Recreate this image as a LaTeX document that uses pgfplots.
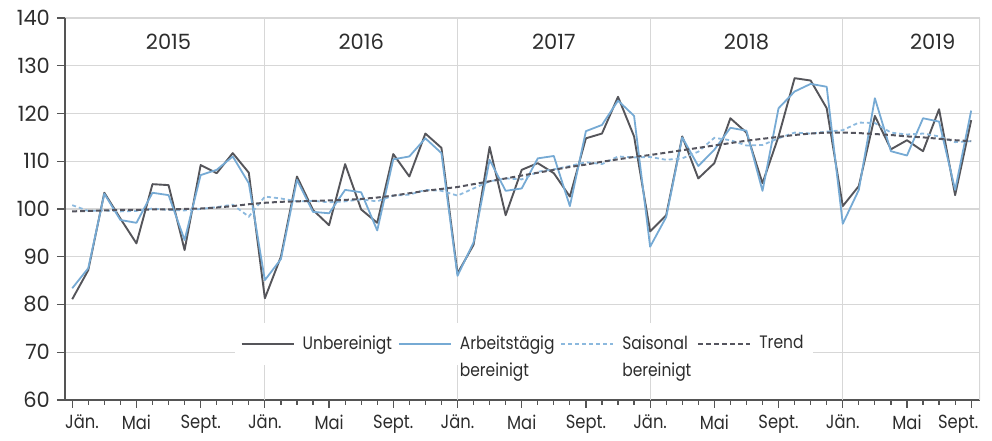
\documentclass[border=0pt]{standalone}
\usepackage{pgfplots}
\pgfplotsset{compat=1.18}
\usepackage{fontspec}
\setmainfont{Poppins}[FakeStretch=0.86]
\newfontfamily\numfont{Poppins}
\definecolor{darkline}{RGB}{85,85,90}
\definecolor{blueline}{RGB}{118,170,212}
\definecolor{saisonline}{RGB}{140,185,222}
\definecolor{trendline}{RGB}{85,85,95}
\definecolor{gridcol}{RGB}{215,215,215}
\definecolor{axiscol}{RGB}{85,85,85}
\definecolor{labelcol}{RGB}{45,45,45}
\newcommand{\lblfont}{\fontsize{9.5}{11}\selectfont}
\newcommand{\legfont}{\fontsize{9}{11}\selectfont}
\newcommand{\nfont}{\numfont\fontsize{10.5}{12}\selectfont}
\begin{document}
\begin{tikzpicture}
\begin{axis}[
  scale only axis, width=457.5pt, height=191pt,
  xmin=-0.45, xmax=56.55, ymin=60, ymax=140,
  axis x line*=bottom, axis y line*=left,
  axis line style={draw=axiscol, line width=0.8pt, -},
  ytick={60,70,...,140},
  ymajorgrids, grid style={draw=gridcol, line width=0.6pt},
  xtick={0,4,...,56},
  xticklabels={{\makebox[0pt][l]{\hspace{-3.5pt}Jän.}},Mai,Sept.,Jän.,Mai,Sept.,Jän.,Mai,Sept.,Jän.,Mai,Sept.,Jän.,Mai,{\makebox[0pt][r]{Sept.\hspace{-3.5pt}}}},
  minor xtick={0,...,56},
  tick align=outside,
  major tick length=4pt, minor tick length=2.5pt,
  tick style={draw=axiscol, line width=0.6pt},
  xticklabel style={font=\lblfont, text=labelcol},
  yticklabel style={font=\nfont, text=labelcol},
  /pgf/number format/assume math mode=true,
  legend columns=4,
  legend cell align=left,
  legend style={at={(axis cs:10.1,76.3)}, anchor=north west, draw=none, fill=white,
    font=\legfont, text=labelcol, inner xsep=3pt, inner ysep=4pt,
    /tikz/every even column/.append style={column sep=1pt},
    /tikz/every odd column/.append style={column sep=2pt}},
  legend image code/.code={\draw[#1] (0pt,0pt) -- (26pt,0pt);},
]
\draw[gridcol, line width=0.6pt] (axis cs:12,60) -- (axis cs:12,140);
\draw[gridcol, line width=0.6pt] (axis cs:24,60) -- (axis cs:24,140);
\draw[gridcol, line width=0.6pt] (axis cs:36,60) -- (axis cs:36,140);
\draw[gridcol, line width=0.6pt] (axis cs:48,60) -- (axis cs:48,140);
\draw[gridcol, line width=0.6pt] (axis cs:56.55,60) -- (axis cs:56.55,140);
\node[font=\nfont, text=labelcol] at (axis cs:6,135) {2015};
\node[font=\nfont, text=labelcol] at (axis cs:18,135) {2016};
\node[font=\nfont, text=labelcol] at (axis cs:30,135) {2017};
\node[font=\nfont, text=labelcol] at (axis cs:42,135) {2018};
\node[font=\nfont, text=labelcol] at (axis cs:53.6,135) {2019};

\addplot[darkline, line width=0.95pt, line join=round] coordinates {
(0,81.1)(1,87.2)(2,103.4)(3,98.0)(4,92.8)(5,105.2)(6,105.0)(7,91.4)(8,109.2)(9,107.5)(10,111.7)(11,107.6)
(12,81.3)(13,90.0)(14,106.8)(15,99.8)(16,96.6)(17,109.4)(18,99.9)(19,97.1)(20,111.5)(21,106.8)(22,115.8)(23,112.8)
(24,86.5)(25,92.5)(26,113.0)(27,98.7)(28,108.2)(29,109.6)(30,107.5)(31,102.6)(32,114.8)(33,115.8)(34,123.5)(35,115.2)
(36,95.3)(37,98.7)(38,115.2)(39,106.4)(40,109.6)(41,119.0)(42,116.0)(43,105.4)(44,115.2)(45,127.4)(46,126.9)(47,121.1)
(48,100.6)(49,104.8)(50,119.5)(51,112.5)(52,114.4)(53,112.1)(54,120.9)(55,102.9)(56,118.6)};
\addlegendentry{Unbereinigt}

\addplot[blueline, line width=0.9pt, line join=round] coordinates {
(0,83.4)(1,87.6)(2,103.2)(3,97.7)(4,97.1)(5,103.4)(6,102.9)(7,93.5)(8,107.1)(9,108.2)(10,111.0)(11,105.4)
(12,85.1)(13,89.5)(14,106.1)(15,99.4)(16,99.1)(17,104.0)(18,103.5)(19,95.5)(20,110.4)(21,111.0)(22,114.8)(23,111.7)
(24,86.0)(25,93.0)(26,110.3)(27,103.8)(28,104.3)(29,110.6)(30,111.1)(31,100.6)(32,116.3)(33,117.6)(34,122.7)(35,119.5)
(36,92.1)(37,98.3)(38,115.0)(39,109.0)(40,112.4)(41,117.0)(42,116.4)(43,103.8)(44,121.1)(45,124.6)(46,126.2)(47,125.6)
(48,96.9)(49,104.0)(50,123.2)(51,112.1)(52,111.2)(53,119.0)(54,118.3)(55,104.0)(56,120.6)};
\addlegendentry{\begin{tabular}[t]{@{}l@{}}Arbeitstägig\\[2.5pt]bereinigt\end{tabular}}

\addplot[saisonline, line width=0.9pt, dash pattern=on 2pt off 1.5pt] coordinates {
(0,100.8)(1,99.6)(2,99.7)(3,99.5)(4,99.6)(5,100.1)(6,99.8)(7,99.7)(8,100.0)(9,100.4)(10,100.9)(11,98.4)
(12,102.6)(13,102.2)(14,101.6)(15,101.7)(16,101.4)(17,101.6)(18,102.0)(19,101.6)(20,102.8)(21,103.0)(22,104.0)(23,103.8)
(24,102.8)(25,104.3)(26,105.8)(27,106.4)(28,106.2)(29,107.8)(30,108.3)(31,109.0)(32,109.8)(33,109.4)(34,111.0)(35,110.8)
(36,110.9)(37,110.3)(38,110.6)(39,112.0)(40,114.9)(41,114.4)(42,113.3)(43,113.4)(44,114.8)(45,116.0)(46,115.8)(47,116.2)
(48,116.5)(49,118.1)(50,118.0)(51,116.0)(52,115.6)(53,115.8)(54,115.2)(55,114.0)(56,114.2)};
\addlegendentry{\begin{tabular}[t]{@{}l@{}}Saisonal\\[2.5pt]bereinigt\end{tabular}}

\addplot[trendline, line width=1pt, dash pattern=on 2.5pt off 1.5pt] coordinates {
(0,99.5)(1,99.6)(2,99.7)(3,99.8)(4,99.8)(5,99.9)(6,99.9)(7,100.0)(8,100.1)(9,100.3)(10,100.6)(11,101.0)
(12,101.3)(13,101.5)(14,101.6)(15,101.7)(16,101.8)(17,101.9)(18,102.1)(19,102.4)(20,102.8)(21,103.3)(22,103.8)(23,104.2)
(24,104.6)(25,105.2)(26,105.8)(27,106.4)(28,107.0)(29,107.6)(30,108.2)(31,108.8)(32,109.3)(33,109.9)(34,110.4)(35,110.9)
(36,111.3)(37,111.8)(38,112.3)(39,112.8)(40,113.3)(41,113.8)(42,114.3)(43,114.7)(44,115.1)(45,115.5)(46,115.8)(47,116.0)
(48,116.0)(49,115.9)(50,115.7)(51,115.5)(52,115.2)(53,115.0)(54,114.7)(55,114.4)(56,114.2)};
\addlegendentry{Trend}
\end{axis}
\path ([shift={(-32.5pt,-17pt)}]current axis.south west) rectangle ([shift={(6pt,9pt)}]current axis.north east);
\end{tikzpicture}
\end{document}
